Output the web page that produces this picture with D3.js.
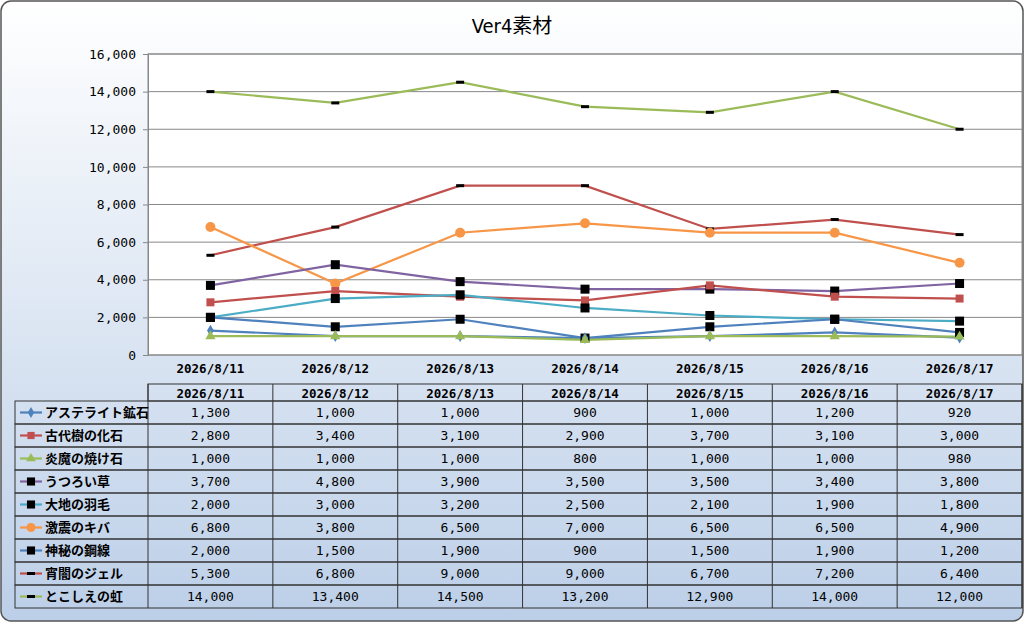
<!DOCTYPE html>
<html><head><meta charset="utf-8">
<script src="https://cdn.jsdelivr.net/npm/d3@7"></script>
<style>body{margin:0}svg{display:block;font-family:"Noto Sans CJK JP",sans-serif}</style>
</head><body><div id="chart"></div>
<script>
const dates = ["2026/8/11","2026/8/12","2026/8/13","2026/8/14","2026/8/15","2026/8/16","2026/8/17"];
const names = ["アステライト鉱石","古代樹の化石","炎魔の焼け石","うつろい草","大地の羽毛","激震のキバ","神秘の鋼線","宵闇のジェル","とこしえの虹"];
const colors = ["#4f81bd","#c0504d","#9bbb59","#8064a2","#4bacc6","#f79646","#4f81bd","#c0504d","#9bbb59"];
const markers = ["diamond","square","triangle","bsquare","bsquare","circle","bsquare","dash","dash"];
const values = [
  [1300,1000,1000,900,1000,1200,920],
  [2800,3400,3100,2900,3700,3100,3000],
  [1000,1000,1000,800,1000,1000,980],
  [3700,4800,3900,3500,3500,3400,3800],
  [2000,3000,3200,2500,2100,1900,1800],
  [6800,3800,6500,7000,6500,6500,4900],
  [2000,1500,1900,900,1500,1900,1200],
  [5300,6800,9000,9000,6700,7200,6400],
  [14000,13400,14500,13200,12900,14000,12000]
];
const yTicks = [0,2000,4000,6000,8000,10000,12000,14000,16000];

const W = 1024, H = 622;
const svg = d3.select("#chart").append("svg").attr("width", W).attr("height", H);
const defs = svg.append("defs");
const g = defs.append("linearGradient").attr("id","bg").attr("x1",0).attr("y1",0).attr("x2",0).attr("y2",1);
g.append("stop").attr("offset","0%").attr("stop-color","#ffffff");
g.append("stop").attr("offset","100%").attr("stop-color","#bccfe8");
svg.append("rect").attr("x",1).attr("y",1).attr("width",W-2).attr("height",H-2).attr("rx",10)
  .attr("fill","url(#bg)").attr("stroke","#555").attr("stroke-width",1.5);

svg.append("text").attr("x",512).attr("y",33).attr("text-anchor","middle")
  .attr("font-size",20).attr("font-family","'DejaVu Sans Condensed','Noto Sans CJK JP'").text("Ver4素材");

const pLeft = 148, pRight = 1022, pTop = 54, pBottom = 355;
const x = d3.scaleBand().domain(dates).range([pLeft, pRight]);
const y = d3.scaleLinear().domain([0,16000]).range([pBottom, pTop]);

svg.append("rect").attr("x",pLeft).attr("y",pTop).attr("width",pRight-pLeft).attr("height",pBottom-pTop)
  .attr("fill","#fff").attr("stroke","#888");
svg.append("g").selectAll("line").data(yTicks).join("line")
  .attr("x1",pLeft).attr("x2",pRight).attr("y1",d=>y(d)).attr("y2",d=>y(d)).attr("stroke","#888");

const yAxis = svg.append("g").attr("transform",`translate(${pLeft},0)`)
  .call(d3.axisLeft(y).tickValues(yTicks).tickFormat(d3.format(",")).tickSize(5));
yAxis.select(".domain").attr("stroke","#888");
yAxis.selectAll("line").attr("stroke","#888");
yAxis.selectAll("text").attr("font-size",13).attr("font-family","'DejaVu Sans Mono'").attr("dx",-4);

svg.append("g").selectAll("text").data(dates).join("text")
  .attr("x",d=>x(d)+x.bandwidth()/2).attr("y",373).attr("text-anchor","middle")
  .attr("font-size",12.5).attr("font-weight","bold").attr("font-family","'DejaVu Sans Mono'").text(d=>d);

function marker(sel, type, color, s) {
  if (type === "diamond") sel.append("path").attr("d",d3.symbol(d3.symbolDiamond, 40*s)()).attr("fill",color);
  else if (type === "square") sel.append("rect").attr("x",-4*s).attr("y",-4*s).attr("width",8*s).attr("height",8*s).attr("fill",color);
  else if (type === "triangle") sel.append("path").attr("d",d3.symbol(d3.symbolTriangle, 45*s)()).attr("fill",color);
  else if (type === "bsquare") sel.append("rect").attr("x",-4.5*s).attr("y",-4.5*s).attr("width",9*s).attr("height",9*s).attr("fill","#000");
  else if (type === "circle") sel.append("circle").attr("r",5*s).attr("fill",color);
  else if (type === "dash") sel.append("rect").attr("x",-4).attr("y",-1.5).attr("width",8).attr("height",3).attr("fill","#000");
}

const line = d3.line().x((d,i)=>x(dates[i])+x.bandwidth()/2).y(d=>y(d));
const order = [8,7,5,3,1,4,6,0,2];
order.forEach(k => {
  svg.append("path").datum(values[k]).attr("d",line).attr("fill","none").attr("stroke",colors[k]).attr("stroke-width",2.2);
});
order.forEach(k => {
  values[k].forEach((v,i) => {
    const m = svg.append("g").attr("transform",`translate(${x(dates[i])+x.bandwidth()/2},${y(v)})`);
    marker(m, markers[k], colors[k], 1);
  });
});

// data table
const tTop = 384, hdrH = 17, rowH = 23, legL = 15;
const tb = svg.append("g").attr("font-family","'DejaVu Sans Mono','Noto Sans CJK JP'");
tb.append("rect").attr("x",pLeft).attr("y",tTop).attr("width",pRight-pLeft).attr("height",hdrH).attr("fill","none").attr("stroke","#333");
dates.forEach(d => {
  tb.append("line").attr("x1",x(d)).attr("x2",x(d)).attr("y1",tTop).attr("y2",tTop+hdrH+rowH*names.length).attr("stroke","#333");
  tb.append("text").attr("x",x(d)+x.bandwidth()/2).attr("y",tTop+13.5).attr("text-anchor","middle")
    .attr("font-size",12.5).attr("font-weight","bold").text(d);
});
tb.append("line").attr("x1",pRight).attr("x2",pRight).attr("y1",tTop).attr("y2",tTop+hdrH+rowH*names.length).attr("stroke","#333");
names.forEach((n,k) => {
  const ry = tTop + hdrH + k*rowH;
  tb.append("rect").attr("x",legL).attr("y",ry).attr("width",pRight-legL).attr("height",rowH).attr("fill","none").attr("stroke","#333");
  tb.append("line").attr("x1",20).attr("x2",42).attr("y1",ry+rowH/2).attr("y2",ry+rowH/2).attr("stroke",colors[k]).attr("stroke-width",2.2);
  marker(tb.append("g").attr("transform",`translate(31,${ry+rowH/2})`), markers[k], colors[k], 0.9);
  tb.append("text").attr("x",45).attr("y",ry+16).attr("font-size",13).attr("font-weight","bold")
    .attr("font-family","'Noto Sans CJK JP'").text(n);
  values[k].forEach((v,i) => {
    tb.append("text").attr("x",x(dates[i])+x.bandwidth()/2).attr("y",ry+16).attr("text-anchor","middle")
      .attr("font-size",13).text(d3.format(",")(v));
  });
});
</script></body></html>
